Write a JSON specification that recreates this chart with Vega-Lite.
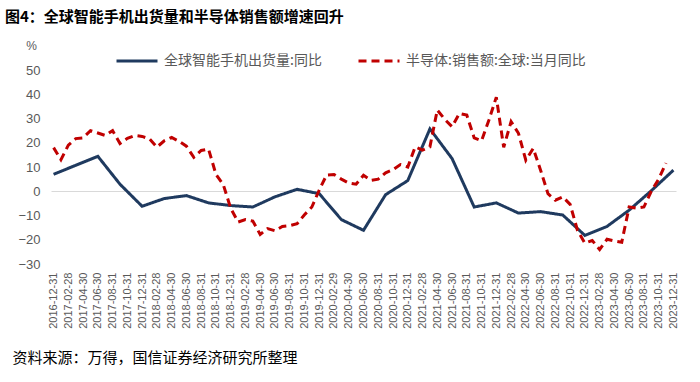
{
  "$schema": "https://vega.github.io/schema/vega-lite/v6.json",
  "width": 625,
  "height": 194,
  "autosize": {"type": "none"},
  "padding": {"left": 51, "top": 70, "right": 24, "bottom": 118},
  "background": "white",
  "title": {"text": "图4：全球智能手机出货量和半导体销售额增速回升", "anchor": "start", "frame": "group", "dx": -46, "offset": 14, "fontSize": 15, "font": "Noto Sans CJK SC", "fontWeight": "bold", "color": "#000000"},
  "config": {"view": {"stroke": null}},
  "data": {"values": [
      {"d": "2016-12-31", "s": "全球智能手机出货量:同比", "v": 7.0},
      {"d": "2017-03-31", "s": "全球智能手机出货量:同比", "v": 10.7},
      {"d": "2017-06-30", "s": "全球智能手机出货量:同比", "v": 14.4},
      {"d": "2017-09-30", "s": "全球智能手机出货量:同比", "v": 2.9},
      {"d": "2017-12-31", "s": "全球智能手机出货量:同比", "v": -6.2},
      {"d": "2018-03-31", "s": "全球智能手机出货量:同比", "v": -3.0},
      {"d": "2018-06-30", "s": "全球智能手机出货量:同比", "v": -1.8},
      {"d": "2018-09-30", "s": "全球智能手机出货量:同比", "v": -4.8},
      {"d": "2018-12-31", "s": "全球智能手机出货量:同比", "v": -5.9},
      {"d": "2019-03-31", "s": "全球智能手机出货量:同比", "v": -6.5},
      {"d": "2019-06-30", "s": "全球智能手机出货量:同比", "v": -2.3},
      {"d": "2019-09-30", "s": "全球智能手机出货量:同比", "v": 0.8},
      {"d": "2019-12-31", "s": "全球智能手机出货量:同比", "v": -1.0},
      {"d": "2020-03-31", "s": "全球智能手机出货量:同比", "v": -11.7},
      {"d": "2020-06-30", "s": "全球智能手机出货量:同比", "v": -16.1},
      {"d": "2020-09-30", "s": "全球智能手机出货量:同比", "v": -1.4},
      {"d": "2020-12-31", "s": "全球智能手机出货量:同比", "v": 4.4},
      {"d": "2021-03-31", "s": "全球智能手机出货量:同比", "v": 25.7},
      {"d": "2021-06-30", "s": "全球智能手机出货量:同比", "v": 13.5},
      {"d": "2021-09-30", "s": "全球智能手机出货量:同比", "v": -6.5},
      {"d": "2021-12-31", "s": "全球智能手机出货量:同比", "v": -4.8},
      {"d": "2022-03-31", "s": "全球智能手机出货量:同比", "v": -9.0},
      {"d": "2022-06-30", "s": "全球智能手机出货量:同比", "v": -8.4},
      {"d": "2022-09-30", "s": "全球智能手机出货量:同比", "v": -9.8},
      {"d": "2022-12-31", "s": "全球智能手机出货量:同比", "v": -18.2},
      {"d": "2023-03-31", "s": "全球智能手机出货量:同比", "v": -14.5},
      {"d": "2023-06-30", "s": "全球智能手机出货量:同比", "v": -7.8},
      {"d": "2023-09-30", "s": "全球智能手机出货量:同比", "v": 0.2},
      {"d": "2023-12-31", "s": "全球智能手机出货量:同比", "v": 8.7},
      {"d": "2016-12-31", "s": "半导体:销售额:全球:当月同比", "v": 18.0},
      {"d": "2017-01-31", "s": "半导体:销售额:全球:当月同比", "v": 13.0},
      {"d": "2017-02-28", "s": "半导体:销售额:全球:当月同比", "v": 19.0},
      {"d": "2017-03-31", "s": "半导体:销售额:全球:当月同比", "v": 21.7},
      {"d": "2017-04-30", "s": "半导体:销售额:全球:当月同比", "v": 22.0},
      {"d": "2017-05-31", "s": "半导体:销售额:全球:当月同比", "v": 25.0},
      {"d": "2017-06-30", "s": "半导体:销售额:全球:当月同比", "v": 24.0},
      {"d": "2017-07-31", "s": "半导体:销售额:全球:当月同比", "v": 23.0},
      {"d": "2017-08-31", "s": "半导体:销售额:全球:当月同比", "v": 25.0},
      {"d": "2017-09-30", "s": "半导体:销售额:全球:当月同比", "v": 19.7},
      {"d": "2017-10-31", "s": "半导体:销售额:全球:当月同比", "v": 21.8},
      {"d": "2017-11-30", "s": "半导体:销售额:全球:当月同比", "v": 23.0},
      {"d": "2017-12-31", "s": "半导体:销售额:全球:当月同比", "v": 22.6},
      {"d": "2018-01-31", "s": "半导体:销售额:全球:当月同比", "v": 21.6},
      {"d": "2018-02-28", "s": "半导体:销售额:全球:当月同比", "v": 18.2},
      {"d": "2018-03-31", "s": "半导体:销售额:全球:当月同比", "v": 20.8},
      {"d": "2018-04-30", "s": "半导体:销售额:全球:当月同比", "v": 22.2},
      {"d": "2018-05-31", "s": "半导体:销售额:全球:当月同比", "v": 20.6},
      {"d": "2018-06-30", "s": "半导体:销售额:全球:当月同比", "v": 18.6},
      {"d": "2018-07-31", "s": "半导体:销售额:全球:当月同比", "v": 14.0},
      {"d": "2018-08-31", "s": "半导体:销售额:全球:当月同比", "v": 16.8},
      {"d": "2018-09-30", "s": "半导体:销售额:全球:当月同比", "v": 17.4},
      {"d": "2018-10-31", "s": "半导体:销售额:全球:当月同比", "v": 7.0},
      {"d": "2018-11-30", "s": "半导体:销售额:全球:当月同比", "v": 2.7},
      {"d": "2018-12-31", "s": "半导体:销售额:全球:当月同比", "v": -7.0},
      {"d": "2019-01-31", "s": "半导体:销售额:全球:当月同比", "v": -12.7},
      {"d": "2019-02-28", "s": "半导体:销售额:全球:当月同比", "v": -11.7},
      {"d": "2019-03-31", "s": "半导体:销售额:全球:当月同比", "v": -12.3},
      {"d": "2019-04-30", "s": "半导体:销售额:全球:当月同比", "v": -17.8},
      {"d": "2019-05-31", "s": "半导体:销售额:全球:当月同比", "v": -15.4},
      {"d": "2019-06-30", "s": "半导体:销售额:全球:当月同比", "v": -16.3},
      {"d": "2019-07-31", "s": "半导体:销售额:全球:当月同比", "v": -14.5},
      {"d": "2019-08-31", "s": "半导体:销售额:全球:当月同比", "v": -14.2},
      {"d": "2019-09-30", "s": "半导体:销售额:全球:当月同比", "v": -13.4},
      {"d": "2019-10-31", "s": "半导体:销售额:全球:当月同比", "v": -9.7},
      {"d": "2019-11-30", "s": "半导体:销售额:全球:当月同比", "v": -6.5},
      {"d": "2019-12-31", "s": "半导体:销售额:全球:当月同比", "v": 0.5},
      {"d": "2020-01-31", "s": "半导体:销售额:全球:当月同比", "v": 6.7},
      {"d": "2020-02-29", "s": "半导体:销售额:全球:当月同比", "v": 6.9},
      {"d": "2020-03-31", "s": "半导体:销售额:全球:当月同比", "v": 5.0},
      {"d": "2020-04-30", "s": "半导体:销售额:全球:当月同比", "v": 3.4},
      {"d": "2020-05-31", "s": "半导体:销售额:全球:当月同比", "v": 2.9},
      {"d": "2020-06-30", "s": "半导体:销售额:全球:当月同比", "v": 6.6},
      {"d": "2020-07-31", "s": "半导体:销售额:全球:当月同比", "v": 4.5},
      {"d": "2020-08-31", "s": "半导体:销售额:全球:当月同比", "v": 5.0},
      {"d": "2020-09-30", "s": "半导体:销售额:全球:当月同比", "v": 7.6},
      {"d": "2020-10-31", "s": "半导体:销售额:全球:当月同比", "v": 8.9},
      {"d": "2020-11-30", "s": "半导体:销售额:全球:当月同比", "v": 11.0},
      {"d": "2020-12-31", "s": "半导体:销售额:全球:当月同比", "v": 10.0},
      {"d": "2021-01-31", "s": "半导体:销售额:全球:当月同比", "v": 18.3},
      {"d": "2021-02-28", "s": "半导体:销售额:全球:当月同比", "v": 17.0},
      {"d": "2021-03-31", "s": "半导体:销售额:全球:当月同比", "v": 18.3},
      {"d": "2021-04-30", "s": "半导体:销售额:全球:当月同比", "v": 33.5},
      {"d": "2021-05-31", "s": "半导体:销售额:全球:当月同比", "v": 29.7},
      {"d": "2021-06-30", "s": "半导体:销售额:全球:当月同比", "v": 26.6},
      {"d": "2021-07-31", "s": "半导体:销售额:全球:当月同比", "v": 32.1},
      {"d": "2021-08-31", "s": "半导体:销售额:全球:当月同比", "v": 31.4},
      {"d": "2021-09-30", "s": "半导体:销售额:全球:当月同比", "v": 22.0},
      {"d": "2021-10-31", "s": "半导体:销售额:全球:当月同比", "v": 20.8},
      {"d": "2021-11-30", "s": "半导体:销售额:全球:当月同比", "v": 29.4},
      {"d": "2021-12-31", "s": "半导体:销售额:全球:当月同比", "v": 38.8},
      {"d": "2022-01-31", "s": "半导体:销售额:全球:当月同比", "v": 18.1},
      {"d": "2022-02-28", "s": "半导体:销售额:全球:当月同比", "v": 28.7},
      {"d": "2022-03-31", "s": "半导体:销售额:全球:当月同比", "v": 23.9},
      {"d": "2022-04-30", "s": "半导体:销售额:全球:当月同比", "v": 12.8},
      {"d": "2022-05-31", "s": "半导体:销售额:全球:当月同比", "v": 17.7},
      {"d": "2022-06-30", "s": "半导体:销售额:全球:当月同比", "v": 8.7},
      {"d": "2022-07-31", "s": "半导体:销售额:全球:当月同比", "v": -1.0},
      {"d": "2022-08-31", "s": "半导体:销售额:全球:当月同比", "v": -3.7},
      {"d": "2022-09-30", "s": "半导体:销售额:全球:当月同比", "v": -2.3},
      {"d": "2022-10-31", "s": "半导体:销售额:全球:当月同比", "v": -5.4},
      {"d": "2022-11-30", "s": "半导体:销售额:全球:当月同比", "v": -16.1},
      {"d": "2022-12-31", "s": "半导体:销售额:全球:当月同比", "v": -21.4},
      {"d": "2023-01-31", "s": "半导体:销售额:全球:当月同比", "v": -20.3},
      {"d": "2023-02-28", "s": "半导体:销售额:全球:当月同比", "v": -24.0},
      {"d": "2023-03-31", "s": "半导体:销售额:全球:当月同比", "v": -19.8},
      {"d": "2023-04-30", "s": "半导体:销售额:全球:当月同比", "v": -20.5},
      {"d": "2023-05-31", "s": "半导体:销售额:全球:当月同比", "v": -21.0},
      {"d": "2023-06-30", "s": "半导体:销售额:全球:当月同比", "v": -6.5},
      {"d": "2023-07-31", "s": "半导体:销售额:全球:当月同比", "v": -7.0},
      {"d": "2023-08-31", "s": "半导体:销售额:全球:当月同比", "v": -6.5},
      {"d": "2023-09-30", "s": "半导体:销售额:全球:当月同比", "v": 0.0},
      {"d": "2023-10-31", "s": "半导体:销售额:全球:当月同比", "v": 5.0},
      {"d": "2023-11-30", "s": "半导体:销售额:全球:当月同比", "v": 11.6}
  ]},
  "mark": {"type": "line", "strokeWidth": 3},
  "encoding": {
    "x": {
      "field": "d", "type": "ordinal",
      "scale": {"type": "point", "padding": 0.35},
      "axis": {
        "labelAngle": 270, "labelPadding": 8, "ticks": false, "domain": false,
        "labelFontSize": 11, "labelColor": "#595959", "labelFont": "Liberation Sans",
        "labelOverlap": false,
        "labelExpr": "toNumber(substring(datum.label,5,7)) % 2 == 0 ? datum.label : ''",
        "title": "资料来源：万得，国信证券经济研究所整理",
        "titleX": -39, "titleY": 93, "titleAlign": "left", "titleBaseline": "middle",
        "titleFont": "Noto Sans CJK SC", "titleFontSize": 15, "titleFontWeight": "normal", "titleColor": "#000000"
      }
    },
    "y": {
      "field": "v", "type": "quantitative",
      "scale": {"domain": [-30, 50], "nice": false, "zero": false},
      "axis": {
        "values": [-30, -20, -10, 0, 10, 20, 30, 40, 50],
        "grid": true,
        "gridColor": {"condition": {"test": "datum.value === 0", "value": "#d9d9d9"}, "value": "transparent"},
        "gridWidth": 1,
        "domain": false, "ticks": false, "labelPadding": 11, "labelOverlap": false,
        "labelFontSize": 13, "labelColor": "#595959", "labelFont": "Liberation Sans",
        "title": "%", "titleAngle": 0, "titleX": -20, "titleY": -25, "titleAlign": "center", "titleBaseline": "middle",
        "titleFontSize": 12, "titleFontWeight": "normal", "titleColor": "#595959", "titleFont": "Liberation Sans"
      }
    },
    "color": {
      "field": "s", "type": "nominal",
      "scale": {"domain": ["全球智能手机出货量:同比", "半导体:销售额:全球:当月同比"], "range": ["#1f3a5f", "#c00000"]},
      "legend": {
        "orient": "none", "legendX": 64, "legendY": -31, "direction": "horizontal", "title": null,
        "symbolType": "stroke", "symbolSize": 1681, "symbolStrokeWidth": 3,
        "labelFont": "Noto Sans CJK SC", "labelFontSize": 14, "labelColor": "#595959", "labelOffset": 5, "columnPadding": 30, "labelLimit": 400
      }
    },
    "strokeDash": {
      "field": "s", "type": "nominal",
      "scale": {"domain": ["全球智能手机出货量:同比", "半导体:销售额:全球:当月同比"], "range": [[1, 0], [8, 5]]},
      "legend": {
        "orient": "none", "legendX": 64, "legendY": -31, "direction": "horizontal", "title": null,
        "symbolType": "stroke", "symbolSize": 1681, "symbolStrokeWidth": 3,
        "labelFont": "Noto Sans CJK SC", "labelFontSize": 14, "labelColor": "#595959", "labelOffset": 5, "columnPadding": 30, "labelLimit": 400
      }
    }
  }
}
